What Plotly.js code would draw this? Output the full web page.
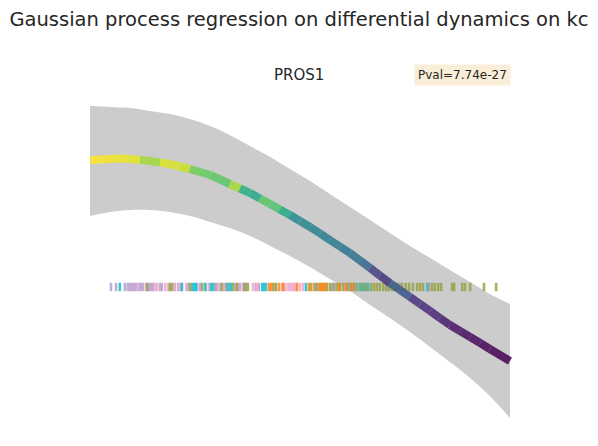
<!DOCTYPE html>
<html>
<head>
<meta charset="utf-8">
<script src="https://cdn.plot.ly/plotly-3.0.1.min.js"></script>
<style>html,body{margin:0;padding:0;background:#fff;}#chart{width:598px;height:446px;}</style>
</head>
<body>
<div id="chart"></div>
<script>
// ---- data (pseudotime t in [0,1], expression in arbitrary units) ----
const gridT = [0.000,0.024,0.048,0.071,0.095,0.119,0.143,0.167,0.190,0.214,0.238,0.262,0.286,0.310,0.333,0.357,0.381,0.405,0.429,0.452,0.476,0.500,0.524,0.548,0.571,0.595,0.619,0.643,0.667,0.690,0.714,0.738,0.762,0.786,0.810,0.833,0.857,0.881,0.905,0.929,0.952,0.976,1.000];
const meanY = [2.54,2.55,2.56,2.57,2.56,2.54,2.52,2.49,2.46,2.41,2.36,2.30,2.24,2.15,2.06,1.97,1.88,1.77,1.66,1.55,1.44,1.32,1.20,1.07,0.94,0.81,0.68,0.53,0.38,0.23,0.08,-0.06,-0.20,-0.34,-0.48,-0.62,-0.76,-0.88,-1.00,-1.12,-1.24,-1.36,-1.48];
// colour value of each segment between consecutive points (viridis scale 0..1)
const segC = [1.00,0.99,0.98,0.97,0.96,0.86,0.85,0.95,0.94,0.92,0.78,0.76,0.75,0.74,0.86,0.62,0.60,0.74,0.72,0.60,0.47,0.46,0.44,0.42,0.41,0.38,0.37,0.32,0.18,0.14,0.28,0.26,0.14,0.12,0.10,0.07,0.05,0.03,0.02,0.01,0.00,0.00];

const bandT = [0.000,0.048,0.095,0.143,0.190,0.238,0.286,0.333,0.381,0.429,0.476,0.524,0.571,0.619,0.667,0.714,0.762,0.810,0.857,0.905,0.952,1.000];
const bandUpper = [3.62,3.60,3.58,3.52,3.46,3.36,3.22,3.04,2.82,2.60,2.36,2.12,1.86,1.60,1.34,1.08,0.82,0.58,0.34,0.10,-0.14,-0.34];
const bandLower = [1.42,1.50,1.54,1.54,1.50,1.42,1.30,1.18,1.02,0.82,0.62,0.40,0.16,-0.08,-0.36,-0.62,-0.90,-1.20,-1.50,-1.82,-2.18,-2.62];

// rug: cells along pseudotime, by group
const rugLilac = [0.050,0.062,0.083,0.090,0.095,0.100,0.105,0.110,0.117,0.121,0.126,0.140,0.145,0.150,0.167,0.171,0.202,0.210,0.217,0.233,0.255,0.262,0.302,0.310,0.345,0.357,0.395,0.402,0.583,0.607];
const rugPink = [0.114,0.133,0.155,0.160,0.179,0.186,0.200,0.212,0.229,0.276,0.283,0.307,0.319,0.352,0.364,0.388,0.398,0.440,0.457,0.464,0.471,0.476,0.481,0.486,0.490,0.500,0.507];
const rugCyan = [0.071,0.219,0.243,0.248,0.252,0.274,0.288,0.293,0.326,0.331,0.336,0.410,0.414,0.419,0.514,0.538,0.643,0.652,0.662,0.803];
const rugOlive = [0.136,0.190,0.195,0.238,0.267,0.314,0.340,0.350,0.367,0.371,0.376,0.436,0.443,0.526,0.548,0.557,0.564,0.571,0.579,0.588,0.595,0.602,0.614,0.621,0.629,0.636,0.648,0.657,0.669,0.676,0.683,0.690,0.698,0.705,0.712,0.719,0.726,0.733,0.743,0.752,0.760,0.769,0.779,0.786,0.793,0.814,0.821,0.829,0.836,0.862,0.867,0.886,0.893,0.905,0.938,0.967];
const rugOrange = [0.426,0.431,0.450,0.460,0.493,0.521,0.533,0.543,0.550,0.555,0.562,0.593,0.610,0.624];
const rugGrey = [0.298,0.324,0.367,0.574,0.617,0.633,0.707,0.738,0.807];

const titleText = 'Gaussian process regression on differential dynamics on kc';
const geneName = 'PROS1';
const pvalText = 'Pval=7.74e-27';

// ---- styles ----
const viridis = [[68,1,84],[72,36,117],[65,68,135],[53,95,141],[42,120,142],[33,145,140],[34,168,132],[68,191,112],[122,209,81],[189,223,38],[253,231,37]];
function vir(v){
  const p = Math.max(0,Math.min(1,v))*10, i = Math.min(9,Math.floor(p)), f = p - i;
  const a = viridis[i], b = viridis[i+1];
  const c = a.map((x,k)=>Math.round(x+(b[k]-x)*f));
  return 'rgba('+c[0]+','+c[1]+','+c[2]+',0.85)';
}

const traces = [];
traces.push({x: bandT, y: bandUpper, mode:'lines', line:{width:0, shape:'spline', smoothing:1}, hoverinfo:'skip', showlegend:false});
traces.push({x: bandT, y: bandLower, mode:'lines', line:{width:0, shape:'spline', smoothing:1}, fill:'tonexty', fillcolor:'#cccccc', hoverinfo:'skip', showlegend:false});

const rugGroups = [[rugLilac,'rgba(190,168,212,0.95)'],[rugPink,'rgba(238,176,204,0.95)'],[rugCyan,'rgba(23,190,207,0.85)'],[rugOlive,'rgba(150,162,70,0.85)'],[rugOrange,'rgba(255,127,14,0.8)'],[rugGrey,'rgba(160,160,150,0.8)']];
rugGroups.forEach(g=>{
  traces.push({x:g[0], y:g[0].map(()=>0), mode:'markers', marker:{symbol:'line-ns', size:6, line:{width:2.6, color:g[1]}}, hoverinfo:'skip', showlegend:false});
});

// coloured mean line: consecutive segments grouped by colour
let cur = null;
for (let i=0;i<segC.length;i++){
  if (!cur || cur.c !== segC[i]){
    cur = {c:segC[i], x:[gridT[i]], y:[meanY[i]]};
    traces.push(cur);
  }
  cur.x.push(gridT[i+1]); cur.y.push(meanY[i+1]);
}
for (const t of traces){
  if (t.c !== undefined){
    t.mode='lines'; t.line={width:8, color:vir(t.c)}; t.hoverinfo='skip'; t.showlegend=false; delete t.c;
  }
}

const layout = {
  width:598, height:446,
  margin:{l:69, r:67, t:80, b:10},
  paper_bgcolor:'#ffffff', plot_bgcolor:'#ffffff',
  font:{family:'DejaVu Sans', color:'#262626'},
  title:{text:titleText, x:0.5, xanchor:'center', y:0.957, yanchor:'middle', yref:'container', font:{size:19.5, color:'#262626', family:'DejaVu Sans'}},
  xaxis:{range:[-0.05,1.05], visible:false, fixedrange:true},
  yaxis:{range:[-2.98,4.14], visible:false, fixedrange:true},
  showlegend:false,
  annotations:[
    {text:geneName, xref:'paper', yref:'paper', x:0.498, y:1.014, xanchor:'center', yanchor:'middle', showarrow:false, font:{size:15, color:'#262626', family:'DejaVu Sans'}},
    {text:pvalText, xref:'paper', yref:'paper', x:0.851, y:1.014, xanchor:'center', yanchor:'middle', showarrow:false, bgcolor:'rgba(245,222,179,0.5)', borderpad:3, font:{size:12, color:'#262626', family:'DejaVu Sans'}}
  ]
};
Plotly.newPlot('chart', traces, layout, {staticPlot:true, displayModeBar:false});
</script>
</body>
</html>
